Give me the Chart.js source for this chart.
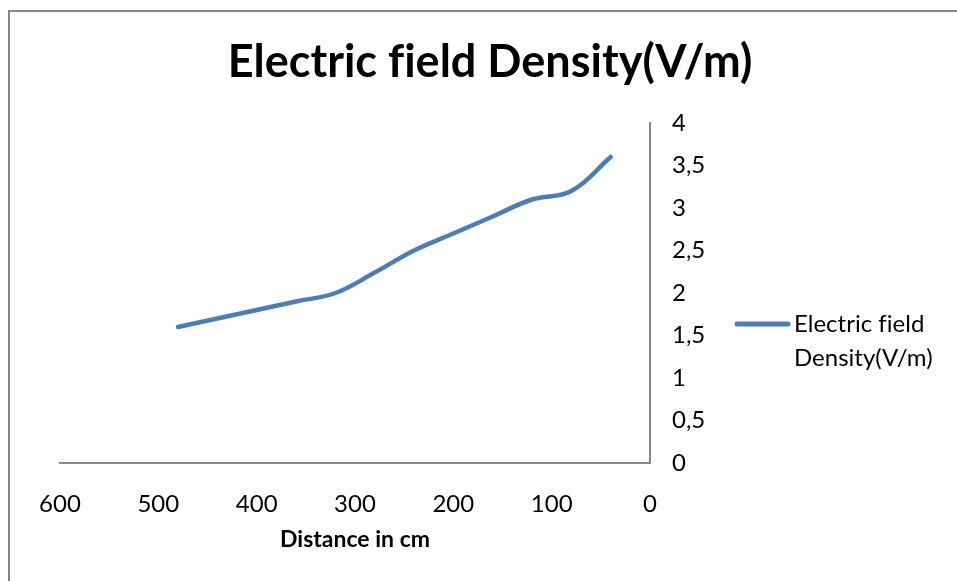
<!DOCTYPE html>
<html>
<head>
<meta charset="utf-8">
<script src="https://cdn.jsdelivr.net/npm/chart.js@4"></script>
<style>
  body { margin: 0; background: #fff; }
  #wrap { position: relative; width: 957px; height: 581px; }
</style>
</head>
<body>
<div id="wrap"><canvas id="fieldChart" width="957" height="581"></canvas></div>
<script>
  // values
  const distances = [480, 440, 400, 360, 320, 280, 240, 200, 160, 120, 80, 40];
  const fieldDensity = [1.6, 1.7, 1.8, 1.9, 2.0, 2.24, 2.5, 2.7, 2.9, 3.1, 3.2, 3.6];
  const chartTitle = 'Electric field Density(V/m)';
  const seriesName = ['Electric field', 'Density(V/m)'];
  const xTitle = 'Distance in cm';

  const lineColor = '#4A7EBB';
  const axisColor = '#868686';

  // frame, title and the two-line legend drawn by hand
  const decorations = {
    id: 'decorations',
    beforeDraw(chart) {
      const ctx = chart.ctx;
      ctx.save();
      ctx.strokeStyle = axisColor;
      ctx.lineWidth = 2;
      ctx.strokeRect(9, 11, 1200, 1200);
      ctx.restore();
    },
    afterDraw(chart) {
      const ctx = chart.ctx;
      ctx.save();
      ctx.letterSpacing = '0.01px'; // no fi ligature, like the original
      ctx.fillStyle = '#000';
      ctx.font = 'bold 45px Lato';
      ctx.textAlign = 'center';
      ctx.textBaseline = 'alphabetic';
      ctx.fillText(chartTitle, 490, 77);

      ctx.strokeStyle = lineColor;
      ctx.lineWidth = 5;
      ctx.lineCap = 'round';
      ctx.beginPath();
      ctx.moveTo(737, 324);
      ctx.lineTo(788, 324);
      ctx.stroke();

      ctx.font = '24px Lato';
      ctx.textAlign = 'left';
      ctx.fillText(seriesName[0], 794, 332);
      ctx.fillText(seriesName[1], 794, 366);
      ctx.restore();
    }
  };

  function createFieldChart() {
    const ctx = document.getElementById('fieldChart').getContext('2d');

    new Chart(ctx, {
      type: 'line',
      data: {
        datasets: [
          {
            label: seriesName.join(' '),
            data: distances.map((d, i) => ({ x: d, y: fieldDensity[i] })),
            borderColor: lineColor,
            borderWidth: 4.5,
            borderCapStyle: 'round',
            pointRadius: 0,
            tension: 0.4,
            fill: false,
          },
        ],
      },
      options: {
        responsive: false,
        animation: false,
        layout: { padding: { left: 60, right: 247, top: 123, bottom: 0 } },
        plugins: {
          legend: { display: false },
          title: { display: false },
          tooltip: { enabled: false },
        },
        scales: {
          x: {
            type: 'linear',
            reverse: true,
            min: 0,
            max: 600,
            ticks: { stepSize: 100, color: '#000', padding: 27, font: { family: 'Lato', size: 24 } },
            grid: { display: false, drawTicks: false },
            border: { color: axisColor, width: 2 },
            title: {
              display: true,
              text: xTitle,
              color: '#000',
              font: { family: 'Lato', size: 23, weight: 'bold' },
              padding: { top: 0, bottom: 28 },
            },
            afterFit(scale) { scale.height = 118; },
          },
          y: {
            position: 'right',
            min: 0,
            max: 4,
            ticks: {
              stepSize: 0.5,
              color: '#000',
              padding: 22,
              font: { family: 'Lato', size: 24 },
              callback: v => String(v).replace('.', ','),
            },
            grid: { display: false, drawTicks: false },
            border: { color: axisColor, width: 2 },
            afterFit(scale) { scale.width = 60; },
          },
        },
      },
      plugins: [decorations],
    });
  }

  document.addEventListener('DOMContentLoaded', () => {
    createFieldChart();
  });
</script>
</body>
</html>
